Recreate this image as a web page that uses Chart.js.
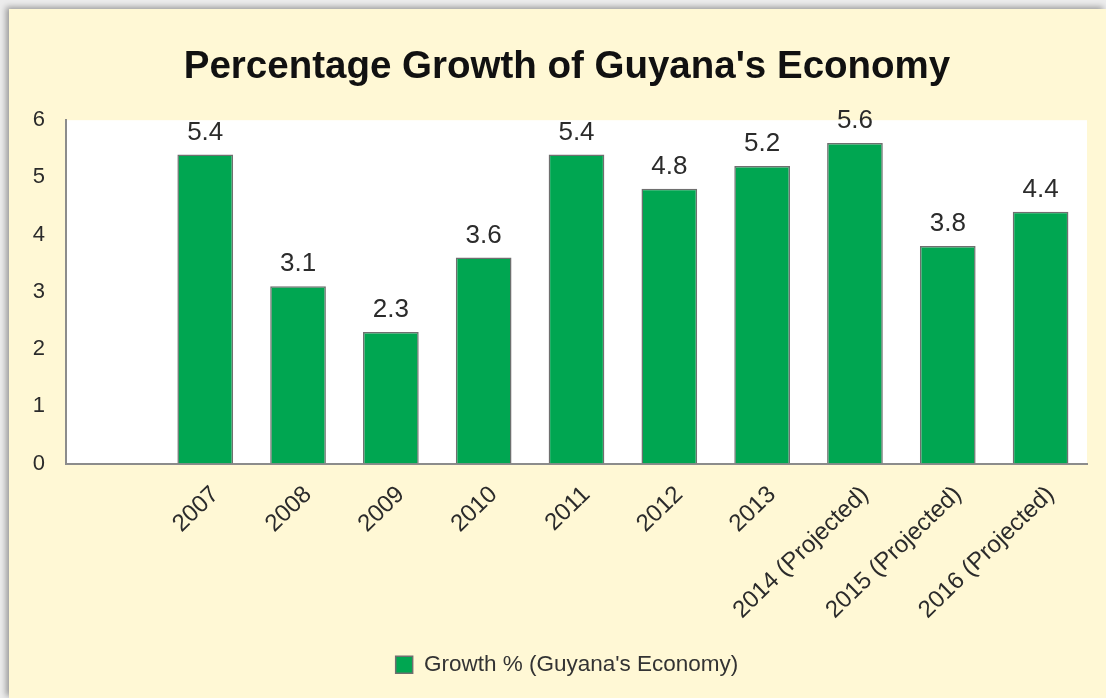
<!DOCTYPE html>
<html>
<head>
<meta charset="utf-8">
<script src="https://cdn.jsdelivr.net/npm/chart.js@4.4.1/dist/chart.umd.min.js"></script>
<style>
  html, body { margin:0; padding:0; width:1106px; height:698px; overflow:hidden; background:#ececec; }
  #panel { position:absolute; left:9px; top:9px; width:1097px; height:689px; background:#FFF8D5;
           box-shadow:-3px -2px 6px rgba(0,0,0,0.35); }
  #wrap { position:absolute; left:0; top:0; width:1106px; height:698px; }
  canvas { display:block; }
</style>
</head>
<body>
<div id="panel"></div>
<div id="wrap"><canvas id="c" width="1106" height="698"></canvas></div>
<script>
const categories = ['', '2007', '2008', '2009', '2010', '2011', '2012', '2013',
  '2014 (Projected)', '2015 (Projected)', '2016 (Projected)'];
const growthValues = [null, 5.4, 3.1, 2.3, 3.6, 5.4, 4.8, 5.2, 5.6, 3.8, 4.4];
const yTicks = [0, 1, 2, 3, 4, 5, 6];
const seriesName = "Growth % (Guyana's Economy)";
const chartTitle = "Percentage Growth of Guyana's Economy";

const FONT = "'Liberation Sans', Arial, sans-serif";

const plotBg = {
  id: 'plotBg',
  afterLayout(chart) {
    // centre title and legend over the panel rather than the whole canvas
    if (chart.titleBlock) chart.titleBlock.left = 47;
    if (chart.legend) chart.legend.left = 47;
  },
  beforeDraw(chart) {
    const {ctx, chartArea: a} = chart;
    ctx.save();
    ctx.fillStyle = '#ffffff';
    ctx.fillRect(a.left, a.top, a.right - a.left, a.bottom - a.top);
    ctx.restore();
  }
};

const valueLabels = {
  id: 'valueLabels',
  afterDatasetsDraw(chart) {
    const {ctx} = chart;
    const meta = chart.getDatasetMeta(0);
    ctx.save();
    ctx.font = '26px ' + FONT;
    ctx.fillStyle = '#2b2b2b';
    ctx.textAlign = 'center';
    ctx.textBaseline = 'alphabetic';
    meta.data.forEach((bar, i) => {
      const v = growthValues[i];
      if (v === null || v === undefined) return;
      ctx.fillText(v.toFixed(1), bar.x, bar.y - 15);
    });
    ctx.restore();
  }
};

new Chart(document.getElementById('c'), {
  type: 'bar',
  data: {
    labels: categories,
    datasets: [{
      label: seriesName,
      data: growthValues,
      backgroundColor: '#00A651',
      borderColor: '#6f6f6f',
      borderWidth: 1.5,
      categoryPercentage: 1.0,
      barPercentage: 0.6
    }]
  },
  options: {
    responsive: false,
    animation: false,
    devicePixelRatio: 1,
    layout: { padding: { left: 0, right: 19, top: 0, bottom: 12 } },
    plugins: {
      title: {
        display: true,
        text: chartTitle,
        color: '#111111',
        font: { family: FONT, size: 38.5, weight: 'bold' },
        padding: { top: 44, bottom: 30 }
      },
      legend: {
        display: true,
        position: 'bottom',
        labels: {
          color: '#333333',
          font: { family: FONT, size: 22.5 },
          boxWidth: 17,
          boxHeight: 17,
          padding: 10
        }
      },
      tooltip: { enabled: false }
    },
    scales: {
      x: {
        grid: { display: false },
        border: { display: true, color: '#8c8c8c', width: 2 },
        ticks: {
          color: '#2b2b2b',
          font: { family: FONT, size: 24 },
          minRotation: 44,
          maxRotation: 44,
          autoSkip: false,
          padding: 9,
          labelOffset: 10
        },
        afterFit(scale) { scale.height = 180; }
      },
      y: {
        min: 0,
        max: 6,
        grid: { display: false },
        border: { display: true, color: '#8c8c8c', width: 2 },
        afterBuildTicks(scale) { scale.ticks = yTicks.map(v => ({ value: v })); },
        ticks: {
          color: '#2b2b2b',
          font: { family: FONT, size: 22 },
          padding: 13
        },
        afterFit(scale) { scale.width = 66; }
      }
    }
  },
  plugins: [plotBg, valueLabels]
});
</script>
</body>
</html>
